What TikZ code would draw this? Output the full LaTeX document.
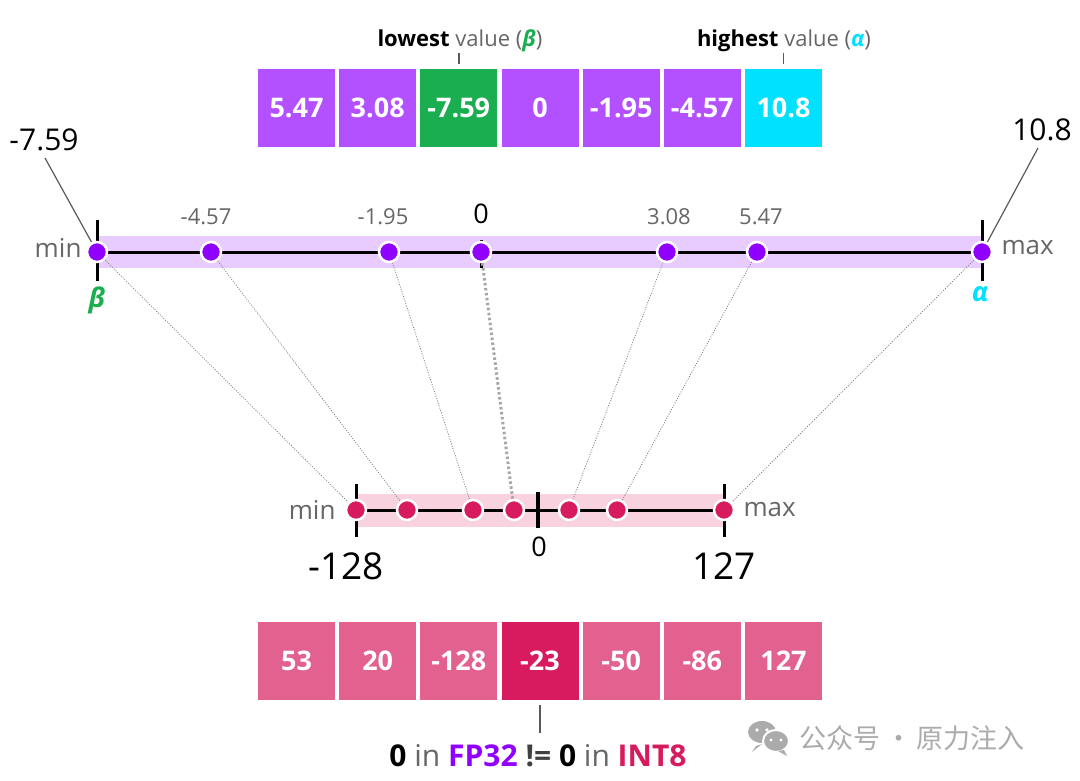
\documentclass[tikz,border=0pt]{standalone}
\usepackage{fontspec}
\setmainfont{Open Sans}
\newfontfamily\cjk{Noto Sans CJK SC}
\usetikzlibrary{backgrounds}
\definecolor{cellpurple}{HTML}{B350FF}
\definecolor{cellgreen}{HTML}{1BAE50}
\definecolor{cellcyan}{HTML}{00E1FF}
\definecolor{dotpurple}{HTML}{8F00FF}
\definecolor{bandpurple}{HTML}{E8CCFF}
\definecolor{cellpink}{HTML}{E3618F}
\definecolor{cellred}{HTML}{D81B5E}
\definecolor{bandpink}{HTML}{F8D3DF}
\definecolor{labgray}{HTML}{666666}
\definecolor{wmgray}{HTML}{ABABAB}
\begin{document}
\begin{tikzpicture}[x=1pt,y=-1pt,
  cellbox/.style={minimum width=77pt, minimum height=78pt, inner sep=0pt, text=white, font=\fontsize{27}{30}\selectfont\bfseries},
  dotp/.style={circle, fill=dotpurple, draw=white, line width=2.5pt, minimum size=20pt, inner sep=0pt},
  dotr/.style={circle, fill=cellred, draw=white, line width=2.5pt, minimum size=20pt, inner sep=0pt},
  vallab/.style={text=labgray, font=\fontsize{22}{26}\selectfont},
  endlab/.style={text=labgray, font=\fontsize{26}{30}\selectfont},
  biglab/.style={text=black, font=\fontsize{30}{34}\selectfont},
  mapline/.style={draw=gray, line width=0.8pt, dash pattern=on 1pt off 1.5pt},
  leader/.style={draw=black!65, line width=1.2pt},
  axis/.style={line width=3pt, black},
]
\useasboundingbox (0,0) rectangle (1080,781);

% ---------- top array ----------
\node[cellbox, fill=cellpurple] (c1) at (296.5,108) {5.47};
\node[cellbox, fill=cellpurple] (c2) at (377.7,108) {3.08};
\node[cellbox, fill=cellgreen]  (c3) at (458.8,108) {-7.59};
\node[cellbox, fill=cellpurple] (c4) at (540,108) {0};
\node[cellbox, fill=cellpurple] (c5) at (621.2,108) {-1.95};
\node[cellbox, fill=cellpurple] (c6) at (702.3,108) {-4.57};
\node[cellbox, fill=cellcyan]   (c7) at (783.5,108) {10.8};

\node[font=\fontsize{22}{26}\selectfont] (lowlab) at (460,41)
  {\textbf{lowest} {\color{labgray}value (}{\color{cellgreen}\bfseries\itshape β}{\color{labgray})}};
\node[font=\fontsize{22}{26}\selectfont] (highlab) at (784,41)
  {\textbf{highest} {\color{labgray}value (}{\color{cellcyan}\bfseries\itshape α}{\color{labgray})}};
\draw[leader] (459,53) -- (459,64);
\draw[leader] (783.5,53) -- (783.5,64);

% ---------- top number line ----------
\node[dotp] (t1) at (97,252) {};
\node[dotp] (t2) at (211,252) {};
\node[dotp] (t3) at (389,252) {};
\node[dotp] (t4) at (481,252) {};
\node[dotp] (t5) at (667,252) {};
\node[dotp] (t6) at (757,252) {};
\node[dotp] (t7) at (982,252) {};

\node[vallab] (v2) at (206,217) {-4.57};
\node[vallab] (v3) at (383,217) {-1.95};
\node[font=\fontsize{27}{30}\selectfont] (v4) at (481,214) {0};
\node[vallab] (v5) at (669,217) {3.08};
\node[vallab] (v6) at (761,217) {5.47};
\node[endlab, anchor=east] (tmin) at (85,248) {min};
\node[endlab, anchor=west] (tmax) at (998,248) {max};
\node[text=cellgreen, font=\fontsize{27}{30}\selectfont\bfseries\itshape] (beta) at (97,300) {β};
\node[text=cellcyan, font=\fontsize{27}{30}\selectfont\bfseries\itshape] (alpha) at (980,294) {α};
\node[biglab] (lmin) at (44,140) {-7.59};
\node[biglab] (lmax) at (1042,130) {10.8};
\coordinate (lminend) at (45,158);
\coordinate (lmaxend) at (1038,148);

% ---------- bottom number line ----------
\node[dotr] (b1) at (356,510) {};
\node[dotr] (b2) at (407,510) {};
\node[dotr] (b3) at (473,510) {};
\node[dotr] (b4) at (514,510) {};
\node[dotr] (b5) at (569,510) {};
\node[dotr] (b6) at (617,510) {};
\node[dotr] (b7) at (724,510) {};
\node[endlab, anchor=east] (bmin) at (339,510) {min};
\node[endlab, anchor=west] (bmax) at (740,510) {max};
\node[font=\fontsize{27}{30}\selectfont] (bzero) at (539,547) {0};
\node[font=\fontsize{37}{40}\selectfont] (blo) at (346,566) {-128};
\node[font=\fontsize{37}{40}\selectfont] (bhi) at (724,566) {127};

% ---------- bottom array ----------
\node[cellbox, fill=cellpink] (d1) at (296.5,661) {53};
\node[cellbox, fill=cellpink] (d2) at (377.7,661) {20};
\node[cellbox, fill=cellpink] (d3) at (458.8,661) {-128};
\node[cellbox, fill=cellred]  (d4) at (540,661) {-23};
\node[cellbox, fill=cellpink] (d5) at (621.2,661) {-50};
\node[cellbox, fill=cellpink] (d6) at (702.3,661) {-86};
\node[cellbox, fill=cellpink] (d7) at (783.5,661) {127};
\draw[leader] (540,705) -- (540,733);
\node[font=\fontsize{30}{34}\selectfont] (caption) at (538,756)
  {\textbf{0} {\color{labgray}in} {\color{dotpurple}\bfseries FP32} {\color{black!75}\bfseries !=} \textbf{0} {\color{labgray}in} {\color{cellred}\bfseries INT8}};

% ---------- watermark ----------
\fill[wmgray] (762,732) ellipse (14 and 11);
\fill[wmgray] (756,746) -- (752,752) -- (762,744) -- cycle;
\filldraw[fill=wmgray, draw=white, line width=2pt] (776,741) ellipse (13 and 11);
\fill[wmgray] (784,750) -- (787,756) -- (778,751) -- cycle;
\fill[white] (757,730) circle (1.8) (767,730) circle (1.8) (771,740) circle (1.6) (781,740) circle (1.6);
\node[text=wmgray, font=\cjk\fontsize{27}{30}\selectfont, anchor=west] (wm) at (796,738) {公众号\,·\,原力注入};

% ---------- background: bands, axes, connectors ----------
\begin{scope}[on background layer]
  \fill[bandpurple] (97,236) rectangle (982,268);
  \draw[axis] (97,252) -- (982,252);
  \draw[axis] (97,220) -- (97,281);
  \draw[axis] (982,220) -- (982,281);
  \draw[axis] (481,240) -- (481,268);
  \fill[bandpink] (356,494) rectangle (724,527);
  \draw[axis] (356,510) -- (724,510);
  \draw[axis] (356,484) -- (356,537);
  \draw[axis] (724,484) -- (724,537);
  \draw[line width=3.5pt] (538,492) -- (538,528);
  \draw[leader] (lminend) -- (t1);
  \draw[leader] (lmaxend) -- (t7);
  \draw[mapline] (t1) -- (b1);
  \draw[mapline] (t2) -- (b2);
  \draw[mapline] (t3) -- (b3);
  \draw[draw=black!35, line width=3pt, dash pattern=on 2.5pt off 2.5pt] (t4) -- (b4);
  \draw[mapline] (t5) -- (b5);
  \draw[mapline] (t6) -- (b6);
  \draw[mapline] (t7) -- (b7);
\end{scope}
\end{tikzpicture}
\end{document}
